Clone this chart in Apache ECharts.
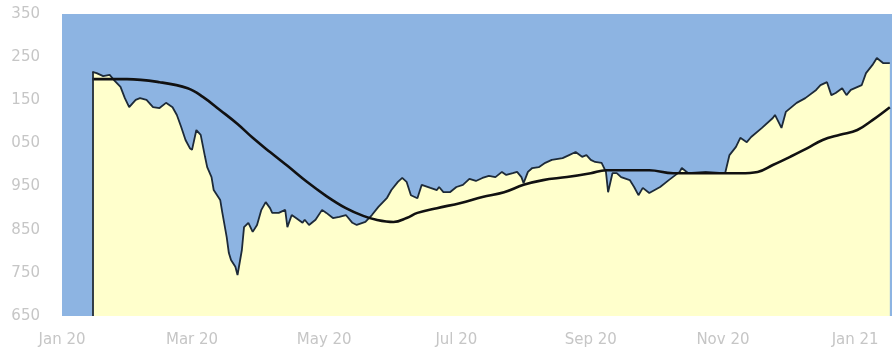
<!DOCTYPE html>
<html>
<head>
<meta charset="utf-8">
<script src="https://cdn.jsdelivr.net/npm/echarts@6/dist/echarts.min.js"></script>
<style>
  html, body { margin: 0; padding: 0; background: #fff; }
  #chart { width: 892px; height: 353px; }
</style>
</head>
<body>
<div id="chart"></div>
<script>
// price readings (date, close)
const priceDates = [
  '2020-01-15','2020-01-17','2020-01-20','2020-01-23','2020-01-25','2020-01-28','2020-01-30','2020-02-01',
  '2020-02-04','2020-02-06','2020-02-09','2020-02-12','2020-02-15','2020-02-18','2020-02-21','2020-02-23',
  '2020-02-25','2020-02-27','2020-02-29','2020-03-01','2020-03-03','2020-03-05','2020-03-07','2020-03-08',
  '2020-03-10','2020-03-11','2020-03-14','2020-03-15','2020-03-17','2020-03-18','2020-03-19','2020-03-21',
  '2020-03-22','2020-03-24','2020-03-25','2020-03-27','2020-03-29','2020-03-31','2020-04-02','2020-04-04',
  '2020-04-06','2020-04-07','2020-04-10','2020-04-13','2020-04-14','2020-04-16','2020-04-18','2020-04-21',
  '2020-04-22','2020-04-24','2020-04-27','2020-04-30','2020-05-02','2020-05-05','2020-05-08','2020-05-11',
  '2020-05-14','2020-05-16','2020-05-20','2020-05-23','2020-05-26','2020-05-30','2020-06-01','2020-06-04',
  '2020-06-06','2020-06-08','2020-06-10','2020-06-13','2020-06-15','2020-06-19','2020-06-22','2020-06-23',
  '2020-06-25','2020-06-28','2020-07-01','2020-07-04','2020-07-07','2020-07-10','2020-07-13','2020-07-16',
  '2020-07-19','2020-07-22','2020-07-24','2020-07-27','2020-07-29','2020-07-31','2020-08-01','2020-08-03',
  '2020-08-05','2020-08-08','2020-08-11','2020-08-14','2020-08-19','2020-08-22','2020-08-25','2020-08-28',
  '2020-08-30','2020-09-01','2020-09-03','2020-09-06','2020-09-08','2020-09-09','2020-09-11','2020-09-13',
  '2020-09-15','2020-09-19','2020-09-21','2020-09-23','2020-09-25','2020-09-28','2020-10-03','2020-10-07',
  '2020-10-12','2020-10-13','2020-10-16','2020-10-24','2020-11-01','2020-11-02','2020-11-04','2020-11-07',
  '2020-11-09','2020-11-12','2020-11-14','2020-11-19','2020-11-24','2020-11-25','2020-11-28','2020-11-30',
  '2020-12-05','2020-12-09','2020-12-14','2020-12-16','2020-12-19','2020-12-21','2020-12-23','2020-12-26',
  '2020-12-28','2020-12-30','2021-01-04','2021-01-06','2021-01-09','2021-01-11','2021-01-14','2021-01-17'
];
const priceValues = [
  1216, 1213, 1206, 1209, 1197, 1181, 1155, 1134,
  1151, 1155, 1151, 1134, 1132, 1144, 1134, 1116,
  1088, 1058, 1039, 1035, 1081, 1070, 1019, 995,
  972, 942, 919, 889, 833, 796, 780, 764,
  745, 803, 856, 866, 845, 861, 896, 914,
  900, 889, 889, 896, 856, 884, 877, 866,
  873, 861, 873, 896, 889, 877, 880, 884,
  866, 861, 868, 884, 903, 924, 942, 961,
  970, 961, 930, 923, 954, 947, 942, 949,
  937, 937, 949, 954, 968, 963, 970, 975,
  972, 984, 977, 981, 984, 972, 958, 984,
  993, 995, 1005, 1012, 1016, 1023, 1030, 1019,
  1023, 1012, 1007, 1005, 984, 937, 981, 981,
  972, 965, 949, 930, 947, 935, 949, 965,
  984, 993, 981, 984, 981, 981, 1023, 1042,
  1063, 1053, 1065, 1086, 1109, 1116, 1086, 1123,
  1144, 1155, 1174, 1185, 1192, 1162, 1167, 1178,
  1162, 1174, 1185, 1213, 1232, 1248, 1236, 1236
];

// moving average readings
const maDates = [
  '2020-01-15','2020-01-31','2020-02-15','2020-02-28','2020-03-06','2020-03-14','2020-03-22','2020-03-29',
  '2020-04-06','2020-04-14','2020-04-23','2020-05-02','2020-05-11','2020-05-19','2020-05-25','2020-06-02',
  '2020-06-08','2020-06-13','2020-06-22','2020-07-03','2020-07-13','2020-07-23','2020-08-01','2020-08-10',
  '2020-08-21','2020-09-01','2020-09-08','2020-09-17','2020-09-28','2020-10-09','2020-10-25','2020-11-09',
  '2020-11-17','2020-11-24','2020-12-02','2020-12-10','2020-12-17','2020-12-25','2021-01-02','2021-01-09',
  '2021-01-17'
];
const maValues = [
  1199, 1199, 1192, 1178, 1158, 1127, 1095, 1063,
  1030, 998, 961, 928, 900, 882, 873, 868,
  877, 889, 900, 912, 926, 937, 954, 965,
  972, 981, 988, 988, 988, 981, 981, 981,
  984, 1000, 1019, 1039, 1058, 1070, 1081, 1104,
  1134
];

const xTickDates = ['2020-01-01','2020-03-01','2020-05-01','2020-07-01','2020-09-01','2020-11-01','2021-01-01'];
const xTickLabels = ['Jan 20','Mar 20','May 20','Jul 20','Sep 20','Nov 20','Jan 21'];
const yTickValues = [650, 750, 850, 950, 1050, 1150, 1250, 1350];
const yTickLabels = ['650','750','850','950','050','150','250','350'];

// dates as day numbers counted from 1 Jan 2020
const DAY = 86400000;
const origin = Date.UTC(2020, 0, 1);
function dayNo(s) {
  const p = s.split('-').map(Number);
  return Math.round((Date.UTC(p[0], p[1] - 1, p[2]) - origin) / DAY);
}

const xTicks = xTickDates.map(dayNo);
const yMin = yTickValues[0];
const yMax = yTickValues[yTickValues.length - 1];

const chart = echarts.init(document.getElementById('chart'), null, { renderer: 'canvas' });

const labelFont = {
  color: '#c6c6c6',
  fontFamily: 'DejaVu Sans',
  fontSize: 15
};

chart.setOption({
  animation: false,
  grid: {
    left: 62,
    right: 0,
    top: 14,
    bottom: 37,
    show: true,
    backgroundColor: '#8db4e2',
    borderWidth: 0,
    outerBoundsMode: 'none'
  },
  xAxis: {
    type: 'value',
    min: 0,
    max: dayNo('2021-01-18'),
    axisLine: { show: false },
    axisTick: { show: false },
    splitLine: { show: false },
    axisLabel: Object.assign({}, labelFont, {
      margin: 17,
      customValues: xTicks,
      hideOverlap: false,
      showMinLabel: true,
      formatter: function (v) {
        const i = xTicks.indexOf(v);
        return i >= 0 ? xTickLabels[i] : '';
      }
    })
  },
  yAxis: {
    type: 'value',
    min: yMin,
    max: yMax,
    interval: 100,
    axisLine: { show: false },
    axisTick: { show: false },
    splitLine: { show: false },
    axisLabel: Object.assign({}, labelFont, {
      margin: 22,
      formatter: function (v) {
        const i = yTickValues.indexOf(v);
        return i >= 0 ? yTickLabels[i] : '';
      }
    })
  },
  series: [
    {
      name: 'Price',
      type: 'line',
      showSymbol: false,
      data: priceDates.map((d, i) => [dayNo(d), priceValues[i]]),
      lineStyle: { color: '#1d2a38', width: 1.8 },
      areaStyle: { color: '#ffffcc', opacity: 1, origin: 'start' },
      markLine: {
        silent: true,
        symbol: 'none',
        label: { show: false },
        lineStyle: { color: '#1d2a38', width: 1.8, type: 'solid' },
        data: [[
          { coord: [dayNo(priceDates[0]), yMin] },
          { coord: [dayNo(priceDates[0]), priceValues[0]] }
        ]]
      },
      z: 2
    },
    {
      name: 'Moving average',
      type: 'line',
      showSymbol: false,
      smooth: 0.4,
      data: maDates.map((d, i) => [dayNo(d), maValues[i]]),
      lineStyle: { color: '#111111', width: 2.6 },
      z: 3
    }
  ]
});
</script>
</body>
</html>
